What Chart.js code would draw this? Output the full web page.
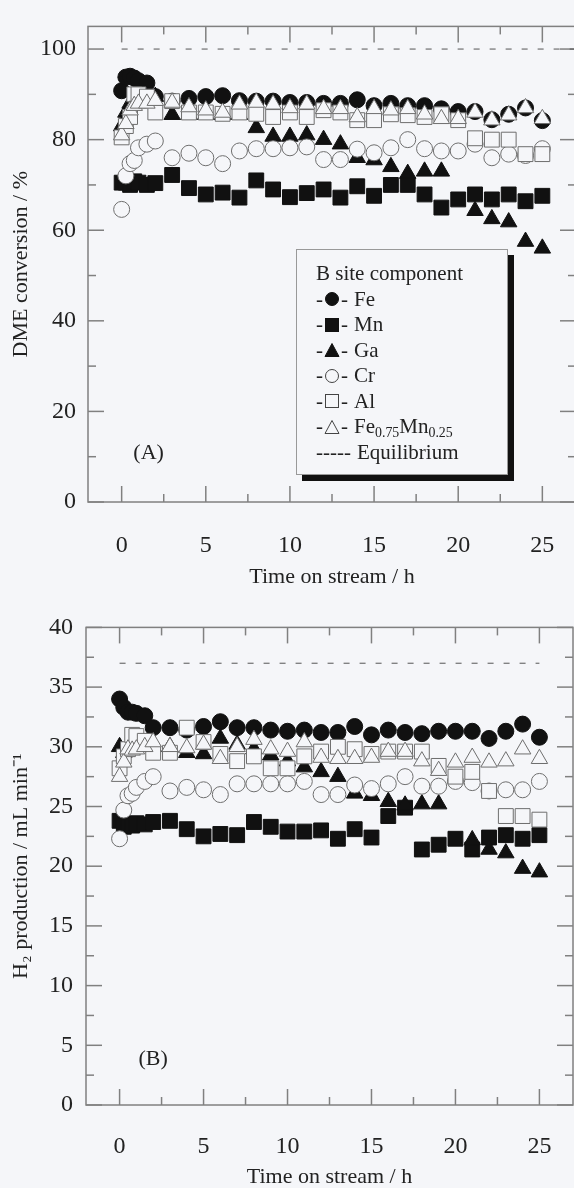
<!DOCTYPE html>
<html>
<head>
<meta charset="utf-8">
<script src="https://cdn.jsdelivr.net/npm/chart.js@4.4.0/dist/chart.umd.min.js"></script>
<style>
    html, body {
        margin: 0;
        padding: 0;
        width: 574px;
        height: 1188px;
        overflow: hidden;
        background: #f5f6f9;
    }
    canvas {
        position: absolute;
        left: 0;
    }
    #chartA { top: 0; }
    #chartB { top: 600px; }
    #legend {
        position: absolute;
        left: 296px;
        top: 249px;
        width: 212px;
        height: 226px;
        box-sizing: border-box;
        border: 1px solid #999;
        background: #f5f6f9;
        box-shadow: 6px 6px 0 #111;
        padding: 11px 0 0 19px;
        font-family: "Liberation Serif", "Times New Roman", serif;
        font-size: 21px;
        color: #222;
    }
    #legend .row {
        height: 25.5px;
        display: flex;
        align-items: center;
        white-space: nowrap;
    }
    #legend svg { margin: 0 1px; }
    #legend .name { margin-left: 6px; }
    #legend sub {
        font-size: 0.66em;
        line-height: 0;
        vertical-align: -0.3em;
    }
</style>
</head>
<body>
<canvas id="chartA" width="600" height="595"></canvas>
<div id="legend"></div>
<canvas id="chartB" width="600" height="588"></canvas>

<script>
// Time on stream (h), shared by every catalyst series
const TIME_H = [0, 0.25, 0.5, 0.75, 1, 1.5, 2, 3, 4, 5, 6, 7, 8, 9, 10, 11, 12, 13, 14, 15,
    16, 17, 18, 19, 20, 21, 22, 23, 24, 25];

const SERIES_LABELS = ['Fe', 'Mn', 'Ga', 'Cr', 'Al', 'Fe<sub>0.75</sub>Mn<sub>0.25</sub>'];

// (A) DME conversion / %
const DME_FE = [90.8, 93.8, 94, 93.6, 93, 92.5, 89.5, 88.5, 89.1, 89.5, 89.7, 88.6, 88.5, 88.5, 88.2,
    88.2, 88, 88, 88.8, 87.5, 88, 87.5, 87.5, 86.8, 86.2, 86.2, 84.4, 85.6, 87, 84.2];
const DME_MN = [70.5, 70.5, 70, 70.8, 70.5, 70, 70.4, 72.2, 69.3, 67.9, 68.3, 67.2, 71, 69, 67.3,
    68.2, 69, 67.2, 69.7, 67.6, 70, 70, 67.9, 65, 66.8, 67.9, 66.8, 67.9, 66.4, 67.6];
const DME_GA = [83, 86, 88, 88.5, 88.5, 89.5, 89.5, 85.5, 85.5, 85.5, 85.5, 85.5, 82.6, 80.7, 80.7,
    81, 80, 79, 76, 75.5, 74, 72.5, 73, 73, null, 64.3, 62.5, 61.8, 57.5, 56];
const DME_CR = [64.6, 72, 74.7, 75.4, 78.2, 79, 79.7, 76, 77, 76, 74.7, 77.5, 78, 78, 78.2,
    78.4, 75.6, 75.6, 77.9, 77.1, 78.2, 80, 78, 77.5, 77.5, 79, 76, 76.8, 76.5, 78];
const DME_AL = [80.5, 83, 85, 90, 90, 89.5, 86, 88.5, 86, 86, 85.7, 86, 85.7, 85, 86,
    85, 86.5, 86, 84.3, 84.3, 85.6, 85.4, 85, 85.6, 84.3, 80.3, 80, 80, 76.8, 76.8];
const DME_FEMN = [81, 83.5, 86.5, 87.5, 88, 88, 88.6, 88.2, 87.2, 86.5, 86, 87.8, 88.2, 87.8, 87,
    87.8, 86.8, 86.8, 85, 86.8, 86.5, 86.8, 85.6, 84.6, 84.6, 86, 84.3, 85.4, 87, 84.6];
const DME_EQ_TIME = [0, 27];
const DME_EQ = [100, 100];

// (B) H2 production / mL min-1
const H2_FE = [34, 33.3, 32.9, 32.9, 32.8, 32.6, 31.6, 31.6, 31.4, 31.7, 32.1, 31.6, 31.6, 31.4, 31.3,
    31.4, 31.2, 31.2, 31.7, 31, 31.4, 31.2, 31.1, 31.3, 31.3, 31.3, 30.7, 31.3, 31.9, 30.8];
const H2_MN = [23.8, 23.3, 23.5, 23.4, 23.6, 23.5, 23.7, 23.8, 23.1, 22.5, 22.7, 22.6, 23.7, 23.3, 22.9,
    22.9, 23, 22.3, 23.1, 22.4, 24.2, 24.9, 21.4, 21.8, 22.3, 21.4, 22.4, 22.6, 22.3, 22.6];
const H2_GA = [30, 29.5, 29.8, 30, 30.2, 30.2, 30, 30, 29.5, 29.4, 30.7, 30.2, 29.8, 29.3, 28.8,
    28.3, 27.9, 27.5, 26.1, 25.9, 25.4, 25.1, 25.2, 25.2, null, 22.2, 21.4, 21.1, 19.8, 19.5];
const H2_CR = [22.3, 24.7, 25.9, 26.1, 26.6, 27.1, 27.5, 26.3, 26.6, 26.4, 26, 26.9, 26.9, 26.9, 26.9,
    27.1, 26, 26, 26.8, 26.5, 26.9, 27.5, 26.7, 26.7, 27.1, 27, 26.3, 26.4, 26.4, 27.1];
const H2_AL = [28.2, 29.2, 29.8, 31, 30.9, 30.5, 29.5, 29.5, 31.6, 30.4, 29.4, 28.8, 29.2, 28.2, 28.2,
    29.2, 29.6, 30, 29.8, 29.4, 29.6, 29.6, 29.6, 28.4, 27.5, 27.9, 26.3, 24.2, 24.2, 23.9];
const H2_FEMN = [27.5, 28.7, 29.8, 29.7, 29.8, 30, 30.4, 30, 29.9, 30.2, 29, 30, 30.6, 29.8, 29.6,
    30.4, 29.1, 29, 29, 29.1, 29.6, 29.6, 28.8, 28, 28.7, 29.1, 28.7, 28.8, 29.8, 29];
const H2_EQ_TIME = [0, 25];
const H2_EQ = [37, 37];

// Tick values
const X_TICKS = [0, 5, 10, 15, 20, 25];
const X_MINOR = [2.5, 7.5, 12.5, 17.5, 22.5];
const Y_TICKS_A = [0, 20, 40, 60, 80, 100];
const Y_MINOR_A = [10, 30, 50, 70, 90];
const Y_TICKS_B = [0, 5, 10, 15, 20, 25, 30, 35, 40];
const Y_MINOR_B = [2.5, 7.5, 12.5, 17.5, 22.5, 27.5, 32.5, 37.5];

// Styles
const BG = '#f5f6f9';
const INK = '#111';
const OPEN = '#6e6e6e';
const AXIS = '#808080';
const FONT = '"Liberation Serif", "Times New Roman", serif';
const MARKERS = [
    { style: 'circle', filled: true, r: 8 },
    { style: 'rect', filled: true, r: 10.5 },
    { style: 'triangle', filled: true, r: 9.5 },
    { style: 'circle', filled: false, r: 8 },
    { style: 'rect', filled: false, r: 10.5 },
    { style: 'triangle', filled: false, r: 9.5 }
];

function buildDatasets(series, eqTimes, eqValues) {
    const sets = series.map((values, i) => {
        const m = MARKERS[i];
        return {
            label: SERIES_LABELS[i],
            data: values.map((v, k) => ({ x: TIME_H[k], y: v })),
            showLine: false,
            pointStyle: m.style,
            pointRadius: m.r,
            pointBackgroundColor: m.filled ? INK : BG,
            pointBorderColor: m.filled ? INK : OPEN,
            pointBorderWidth: 1,
            order: series.length - i
        };
    });
    sets.push({
        label: 'Equilibrium',
        data: eqTimes.map((t, k) => ({ x: t, y: eqValues[k] })),
        showLine: true,
        pointRadius: 0,
        borderColor: '#555',
        borderWidth: 1,
        borderDash: [6, 10],
        order: 10
    });
    return sets;
}

// Frame with inward ticks on all four sides, plus the panel letter
const framePlugin = {
    id: 'frame',
    beforeDatasetsDraw(chart, args, opts) {
        const { ctx, chartArea: a, scales: { x, y } } = chart;
        ctx.save();
        ctx.strokeStyle = AXIS;
        ctx.lineWidth = 1.5;
        ctx.strokeRect(a.left, a.top, a.right - a.left, a.bottom - a.top);

        const line = (x1, y1, x2, y2) => {
            ctx.beginPath();
            ctx.moveTo(x1, y1);
            ctx.lineTo(x2, y2);
            ctx.stroke();
        };
        const xTick = (v, len) => {
            const px = x.getPixelForValue(v);
            line(px, a.bottom, px, a.bottom - len);
            line(px, a.top, px, a.top + len);
        };
        const yTick = (v, len) => {
            const py = y.getPixelForValue(v);
            line(a.left, py, a.left + len, py);
            line(a.right, py, a.right - len, py);
        };
        opts.xMajor.forEach(v => xTick(v, 16));
        opts.xMinor.forEach(v => xTick(v, 8));
        opts.yMajor.forEach(v => yTick(v, 16));
        opts.yMinor.forEach(v => yTick(v, 8));

        ctx.fillStyle = '#222';
        ctx.font = '22px ' + FONT;
        ctx.textAlign = 'center';
        ctx.textBaseline = 'middle';
        ctx.fillText(opts.label, x.getPixelForValue(opts.labelAt[0]), y.getPixelForValue(opts.labelAt[1]));
        ctx.restore();
    }
};

function makeOptions(cfg) {
    const tickFont = { family: FONT, size: 24, lineHeight: 1.2 };
    const titleFont = { family: FONT, size: 22, lineHeight: 1 };
    return {
        responsive: false,
        animation: false,
        layout: { padding: { top: cfg.padTop, right: cfg.padRight, left: 0, bottom: 0 } },
        plugins: {
            legend: { display: false },
            tooltip: { enabled: false },
            frame: {
                xMajor: X_TICKS, xMinor: X_MINOR,
                yMajor: cfg.yTicks, yMinor: cfg.yMinor,
                label: cfg.label, labelAt: cfg.labelAt
            }
        },
        scales: {
            x: {
                type: 'linear',
                min: -2,
                max: 27,
                grid: { display: false, drawTicks: false },
                border: { display: false },
                afterBuildTicks: s => { s.ticks = X_TICKS.map(v => ({ value: v })); },
                afterFit: s => { s.height = cfg.xHeight; },
                ticks: { font: tickFont, color: '#222', padding: cfg.xPad, maxRotation: 0, autoSkip: false },
                title: {
                    display: true,
                    text: 'Time on stream / h',
                    font: titleFont,
                    color: '#222',
                    padding: { top: 0, bottom: cfg.xTitlePad }
                }
            },
            y: {
                type: 'linear',
                min: 0,
                max: cfg.yMax,
                grid: { display: false, drawTicks: false },
                border: { display: false },
                afterBuildTicks: s => { s.ticks = cfg.yTicks.map(v => ({ value: v })); },
                afterFit: s => { s.width = cfg.yWidth; },
                ticks: { font: tickFont, color: '#222', padding: cfg.yPad, autoSkip: false },
                title: {
                    display: true,
                    text: cfg.yTitle,
                    font: titleFont,
                    color: '#222',
                    padding: { top: 10, bottom: 0 }
                }
            }
        }
    };
}

function buildLegend() {
    const svg = m => {
        const fill = m.filled ? INK : 'none';
        const stroke = m.filled ? INK : '#444';
        let shape;
        if (m.style === 'circle') shape = `<circle cx="8" cy="8" r="6.5" fill="${fill}" stroke="${stroke}"/>`;
        else if (m.style === 'rect') shape = `<rect x="1.5" y="1.5" width="13" height="13" fill="${fill}" stroke="${stroke}"/>`;
        else shape = `<polygon points="8,1.5 15,14.5 1,14.5" fill="${fill}" stroke="${stroke}"/>`;
        return `<svg width="16" height="16" viewBox="0 0 16 16">${shape}</svg>`;
    };
    let html = '<div class="row">B site component</div>';
    SERIES_LABELS.forEach((name, i) => {
        html += `<div class="row">-${svg(MARKERS[i])}-<span class="name">${name}</span></div>`;
    });
    html += '<div class="row">-----<span class="name">Equilibrium</span></div>';
    document.getElementById('legend').innerHTML = html;
}

document.addEventListener('DOMContentLoaded', () => {
    buildLegend();

    new Chart(document.getElementById('chartA').getContext('2d'), {
        type: 'scatter',
        data: {
            datasets: buildDatasets([DME_FE, DME_MN, DME_GA, DME_CR, DME_AL, DME_FEMN], DME_EQ_TIME, DME_EQ)
        },
        options: makeOptions({
            padTop: 13, padRight: 24, xHeight: 93, yWidth: 88,
            xPad: 29, yPad: 12, xTitlePad: 7,
            yMax: 105, yTicks: Y_TICKS_A, yMinor: Y_MINOR_A,
            yTitle: 'DME conversion / %',
            label: '(A)', labelAt: [1.6, 10.7]
        }),
        plugins: [framePlugin]
    });

    new Chart(document.getElementById('chartB').getContext('2d'), {
        type: 'scatter',
        data: {
            datasets: buildDatasets([H2_FE, H2_MN, H2_GA, H2_CR, H2_AL, H2_FEMN], H2_EQ_TIME, H2_EQ)
        },
        options: makeOptions({
            padTop: 15, padRight: 27, xHeight: 83, yWidth: 86,
            xPad: 27, yPad: 13, xTitlePad: 0,
            yMax: 40, yTicks: Y_TICKS_B, yMinor: Y_MINOR_B,
            yTitle: 'H\u2082 production / mL min\u207B\u00B9',
            label: '(B)', labelAt: [2, 3.8]
        }),
        plugins: [framePlugin]
    });
});
</script>
</body>
</html>
